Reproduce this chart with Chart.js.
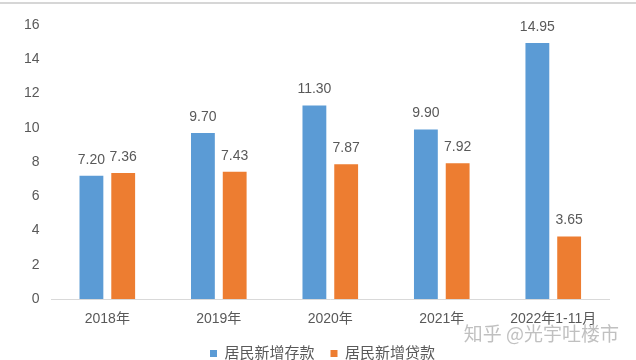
<!DOCTYPE html>
<html>
<head>
<meta charset="utf-8">
<script src="https://cdn.jsdelivr.net/npm/chart.js@4"></script>
<style>
  html, body { margin: 0; padding: 0; background: #fff; }
  #wrap { width: 636px; height: 360px; overflow: hidden; }
</style>
</head>
<body>
<div id="wrap"><canvas id="chart" width="636" height="360"></canvas></div>
<script>
const categories = ["2018年", "2019年", "2020年", "2021年", "2022年1-11月"];
const depositValues = [7.20, 9.70, 11.30, 9.90, 14.95];
const loanValues = [7.36, 7.43, 7.87, 7.92, 3.65];
const yTicks = [0, 2, 4, 6, 8, 10, 12, 14, 16];

const FONT = "'Liberation Sans', 'Noto Sans CJK SC', sans-serif";
const GREY = "#595959";

// value labels above each bar
const barLabels = {
  id: "barLabels",
  afterDatasetsDraw(chart) {
    const ctx = chart.ctx;
    ctx.save();
    ctx.font = "14px " + FONT;
    ctx.fillStyle = GREY;
    ctx.textAlign = "center";
    ctx.textBaseline = "bottom";
    chart.data.datasets.forEach((ds, i) => {
      chart.getDatasetMeta(i).data.forEach((bar, j) => {
        ctx.fillText(ds.data[j].toFixed(2), bar.x, bar.y - 9);
      });
    });
    ctx.restore();
  }
};

// nudge the legend a bit to the right, like the original
const legendShift = {
  id: "legendShift",
  afterLayout(chart) {
    chart.legend.left += 12;
    chart.legend.right += 12;
  }
};

// top border line and watermark
const extras = {
  id: "extras",
  afterDraw(chart) {
    const ctx = chart.ctx;
    ctx.save();
    ctx.strokeStyle = "#d6d6d6";
    ctx.lineWidth = 2;
    ctx.beginPath();
    ctx.moveTo(0, 3);
    ctx.lineTo(chart.width, 3);
    ctx.stroke();
    ctx.font = "19px 'Noto Sans CJK SC', sans-serif";
    ctx.fillStyle = "rgba(165,165,165,0.7)";
    ctx.textAlign = "right";
    ctx.textBaseline = "middle";
    ctx.fillText("知乎 @光宇吐楼市", 619, 334);
    ctx.restore();
  }
};

new Chart(document.getElementById("chart").getContext("2d"), {
  type: "bar",
  data: {
    labels: categories,
    datasets: [
      {
        label: "居民新增存款",
        data: depositValues,
        backgroundColor: "#5B9BD5",
        categoryPercentage: 0.57,
        barPercentage: 0.75
      },
      {
        label: "居民新增贷款",
        data: loanValues,
        backgroundColor: "#ED7D31",
        categoryPercentage: 0.57,
        barPercentage: 0.75
      }
    ]
  },
  options: {
    responsive: false,
    animation: false,
    layout: { padding: { left: 12, right: 27, top: 25, bottom: -11 } },
    plugins: {
      tooltip: { enabled: false },
      legend: {
        position: "bottom",
        labels: {
          font: { family: FONT, size: 15, lineHeight: 1 },
          color: GREY,
          boxWidth: 7,
          boxHeight: 7,
          padding: 16
        }
      }
    },
    scales: {
      x: {
        afterFit(scale) { scale.height = 31; },
        grid: { display: false, drawTicks: false },
        border: { display: true, color: "#d9d9d9", width: 1 },
        ticks: { font: { family: FONT, size: 14, lineHeight: 1 }, color: GREY, padding: 13 }
      },
      y: {
        min: 0,
        max: 16,
        afterBuildTicks(scale) {
          scale.ticks = yTicks.map(v => ({ value: v }));
        },
        grid: { display: false, drawTicks: false },
        border: { display: false },
        ticks: { font: { family: FONT, size: 14 }, color: GREY, padding: 12 }
      }
    }
  },
  plugins: [barLabels, legendShift, extras]
});
</script>
</body>
</html>
